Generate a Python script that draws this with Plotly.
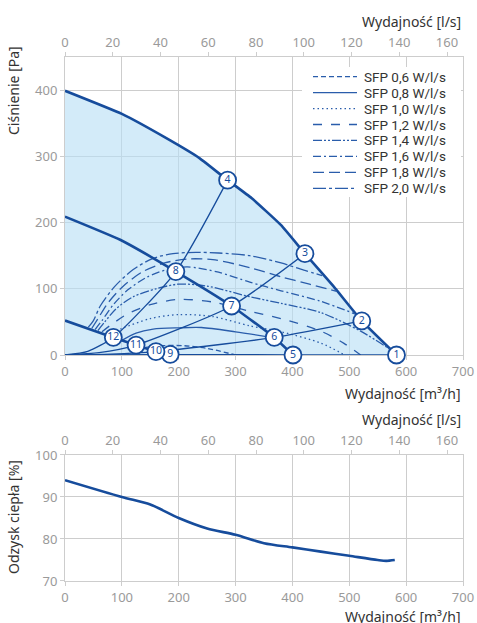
import plotly.graph_objects as go

# ---------------- data ----------------
# fan curves  [m3/h] -> [Pa]
flow_max = [0, 100, 179, 237, 286, 328, 380, 422, 472, 522, 583]
pres_max = [399, 364, 327, 297, 264, 237, 196, 153, 104, 51.5, 0]
flow_mid = [0, 97, 195, 293, 368, 401]
pres_mid = [209, 174, 126, 74, 26.5, 0]
flow_low = [0, 85, 125, 160, 185]
pres_low = [52, 26.5, 15, 5, 1]

# system curves
sysA_flow = [0, 40, 85, 195, 286]
sysA_pres = [0, 5.5, 26.5, 126, 264]
sysB_flow = [0, 60, 125, 293, 422]
sysB_pres = [0, 3.5, 15, 74, 153]
sysC_flow = [0, 80, 160, 368, 522]
sysC_pres = [0, 1.2, 5, 26.5, 51.5]
sysD_flow = [0, 185, 401, 583]
sysD_pres = [0, 0.5, 0.3, 0]

# operating points
pt_labels = ["1", "2", "3", "4", "5", "6", "7", "8", "9", "10", "11", "12"]
pt_flow = [583, 522, 422, 286, 401, 368, 293, 195, 185, 160, 125, 85]
pt_pres = [0, 51.5, 153, 264, 0, 26.5, 74, 126, 1, 5, 15, 26.5]

# SFP iso-lines
sfp_names = ["SFP 0,6 W/l/s", "SFP 0,8 W/l/s", "SFP 1,0 W/l/s", "SFP 1,2 W/l/s",
             "SFP 1,4 W/l/s", "SFP 1,6 W/l/s", "SFP 1,8 W/l/s", "SFP 2,0 W/l/s"]
sfp06_f = [140, 170, 210, 250, 300]
sfp06_p = [11, 14, 14, 10, 0]
sfp08_f = [100, 125, 155, 200, 240, 300, 368]
sfp08_p = [22, 33, 39, 41, 41.5, 35, 26]
sfp10_f = [75, 100, 150, 200, 260, 325, 380, 450, 492]
sfp10_p = [31, 40, 55, 61, 58, 44, 35, 18, 0]
sfp12_f = [65, 80, 110, 150, 200, 260, 325, 380, 450, 490, 520]
sfp12_p = [35, 45, 62, 76, 84, 80, 66, 55, 36, 18, 0]
sfp14_f = [58, 70, 90, 120, 160, 200, 250, 325, 380, 450, 520, 578]
sfp14_p = [37, 50, 70, 88, 100, 107, 104, 88, 78, 64, 36, 5]
sfp16_f = [53, 65, 85, 110, 145, 180, 215, 270, 325, 380, 450, 510]
sfp16_p = [38.5, 52, 76, 98, 118, 129, 133, 125, 110, 97, 81, 62]
sfp18_f = [47, 58, 75, 100, 135, 175, 215, 260, 325, 380, 430, 478]
sfp18_p = [40, 55, 78, 102, 125, 139, 145, 144, 132, 118, 107, 96]
sfp20_f = [41, 50, 62, 88, 120, 155, 190, 230, 270, 325, 380, 420, 452]
sfp20_p = [42, 52, 74, 104, 129, 146, 153, 155, 154, 150, 139, 128, 120]
sfp_dash = ["5px,3px", "solid", "1.5px,3px", "9px,9px", "9px,2px,2px,2px,2px,2px",
            "8px,3px,2px,3px", "11px,5px", "13px,3px,3px,3px"]

# heat recovery
hr_flow = [0, 100, 150, 200, 250, 300, 350, 400, 450, 500, 550, 565, 580]
hr_eff = [94, 90, 88.2, 85, 82.5, 81, 79, 78, 77, 76, 75, 74.8, 75]

# axes
flow_ticks = [0, 100, 200, 300, 400, 500, 600, 700]
ls_ticks = [0, 20, 40, 60, 80, 100, 120, 140, 160]
pa_ticks = [0, 100, 200, 300, 400]
eff_ticks = [70, 80, 90, 100]

# ---------------- styling ----------------
BLUE = "#164c9c"
BLUE2 = "#2a5dab"
FILL = "rgba(184,222,246,0.62)"
GRID = "#cdcdcd"
TICKC = "#9a9a9a"
TITLEC = "#333333"
FONT = "Noto Sans"

fig = go.Figure()

# max curve with fill
fig.add_trace(go.Scatter(x=flow_max, y=pres_max, mode="lines", fill="tozeroy",
                         fillcolor=FILL, line=dict(color=BLUE, width=2.6, shape="spline", smoothing=0.4),
                         showlegend=False, hoverinfo="skip", cliponaxis=False))

# SFP lines
sfp_data = [(sfp06_f, sfp06_p), (sfp08_f, sfp08_p), (sfp10_f, sfp10_p), (sfp12_f, sfp12_p),
            (sfp14_f, sfp14_p), (sfp16_f, sfp16_p), (sfp18_f, sfp18_p), (sfp20_f, sfp20_p)]
for name, (fx, py), dash in zip(sfp_names, sfp_data, sfp_dash):
    fig.add_trace(go.Scatter(x=fx, y=py, mode="lines", name=name, showlegend=False,
                             line=dict(color=BLUE2, width=1.3, dash=dash, shape="spline", smoothing=0.8),
                             hoverinfo="skip"))

# system curves
for fx, py in [(sysA_flow, sysA_pres), (sysB_flow, sysB_pres), (sysC_flow, sysC_pres), (sysD_flow, sysD_pres)]:
    fig.add_trace(go.Scatter(x=fx, y=py, mode="lines", showlegend=False, hoverinfo="skip",
                             line=dict(color=BLUE, width=1.3, shape="spline", smoothing=0.6),
                             cliponaxis=False))

# mid / low fan curves
for fx, py in [(flow_mid, pres_mid), (flow_low, pres_low)]:
    fig.add_trace(go.Scatter(x=fx, y=py, mode="lines", showlegend=False, hoverinfo="skip",
                             line=dict(color=BLUE, width=2.6, shape="spline", smoothing=0.4),
                             cliponaxis=False))

# points
fig.add_trace(go.Scatter(x=pt_flow, y=pt_pres, mode="markers+text", text=pt_labels,
                         textposition="middle center",
                         textfont=dict(family=FONT, size=10.5, color=BLUE),
                         marker=dict(size=17, color="white", line=dict(color=BLUE, width=1.8)),
                         showlegend=False, hoverinfo="skip", cliponaxis=False))

# heat recovery
fig.add_trace(go.Scatter(x=hr_flow, y=hr_eff, mode="lines", xaxis="x3", yaxis="y2",
                         line=dict(color=BLUE, width=2.6, shape="spline", smoothing=0.8),
                         showlegend=False, hoverinfo="skip"))

# secondary (l/s) axes need a trace attached to be drawn
fig.add_trace(go.Scatter(x=ls_ticks, y=[None] * len(ls_ticks), xaxis="x2", yaxis="y",
                         mode="lines", showlegend=False, hoverinfo="skip"))
fig.add_trace(go.Scatter(x=ls_ticks, y=[None] * len(ls_ticks), xaxis="x4", yaxis="y2",
                         mode="lines", showlegend=False, hoverinfo="skip"))

tickfont = dict(family=FONT, size=13, color=TICKC)
common = dict(showline=True, linecolor=GRID, linewidth=1, tickfont=tickfont, automargin=False,
              ticks="outside", ticklen=4, tickcolor=GRID, zeroline=False)

top_dom = [0.4313, 1.0]
bot_dom = [0.0, 0.2405]

fig.update_layout(
    width=477, height=623,
    margin=dict(l=65, r=14, t=57, b=42),
    paper_bgcolor="white", plot_bgcolor="white",
    font=dict(family=FONT, color=TITLEC),
    xaxis=dict(range=[0, 700], tickvals=flow_ticks, showgrid=True, gridcolor=GRID, gridwidth=1.4,
               anchor="y", mirror=True, layer="below traces", **common),
    xaxis2=dict(range=[0, 166.7], tickvals=ls_ticks, overlaying="x", side="top", anchor="y",
                showgrid=False, **common),
    yaxis=dict(domain=top_dom, range=[0, 450], tickvals=pa_ticks, showgrid=True, gridcolor=GRID,
               gridwidth=1.4, mirror=True, layer="below traces", **common),
    xaxis3=dict(range=[0, 700], tickvals=flow_ticks, showgrid=True, gridcolor=GRID, gridwidth=1.4,
                anchor="y2", mirror=True, **common),
    xaxis4=dict(range=[0, 166.7], tickvals=ls_ticks, overlaying="x3", side="top", anchor="y2",
                showgrid=False, **common),
    yaxis2=dict(domain=bot_dom, range=[70, 100], tickvals=eff_ticks, showgrid=True, gridcolor=GRID,
                gridwidth=1.4, mirror=True, anchor="x3", **common),
    showlegend=False,
)

ann = dict(xref="paper", yref="paper", showarrow=False, font=dict(family=FONT, size=14, color=TITLEC))
fig.add_annotation(text="Wydajność [l/s]", x=1.0, y=1.0687, xanchor="right", yanchor="middle", **ann)
fig.add_annotation(text="Wydajność [m³/h]", x=1.0, y=0.3578, xanchor="right", yanchor="middle", **ann)
fig.add_annotation(text="Wydajność [l/s]", x=1.0, y=0.3073, xanchor="right", yanchor="middle", **ann)
fig.add_annotation(text="Wydajność [m³/h]", x=1.0, y=-0.0687, xanchor="right", yanchor="middle", **ann)
fig.add_annotation(text="Ciśnienie [Pa]", x=-0.1307, y=0.937, xanchor="center", yanchor="middle",
                   textangle=-90, **ann)
fig.add_annotation(text="Odzysk ciepła [%]", x=-0.1307, y=0.1221, xanchor="center", yanchor="middle",
                   textangle=-90, **ann)

# manual legend (inside top plot, domain-relative positions)
W, H = 398.0, 298.0
def dx(px):
    return (px - 65) / W
def dy(py):
    return (355 - py) / H

fig.add_shape(type="rect", xref="x domain", yref="y domain", x0=dx(302), x1=dx(461), y0=dy(197), y1=dy(67),
              fillcolor="white", line=dict(width=0), layer="above")
for i, (name, dash) in enumerate(zip(sfp_names, sfp_dash)):
    yc = 76.7 + 15.94 * i
    fig.add_shape(type="line", xref="x domain", yref="y domain", x0=dx(313), x1=dx(357),
                  y0=dy(yc), y1=dy(yc), line=dict(color=BLUE2, width=1.3, dash=dash), layer="above")
    fig.add_annotation(text=name, xref="x domain", yref="y domain", x=dx(362), y=dy(yc),
                       xanchor="left", yanchor="middle", showarrow=False,
                       font=dict(family="Roboto", size=13.5, color="#333333"))

# remove the default page margin so the figure fills the window exactly; hide the modebar
fig.write_html("out.html", post_script="document.body.style.margin='0px';",
               config={"displayModeBar": False})
